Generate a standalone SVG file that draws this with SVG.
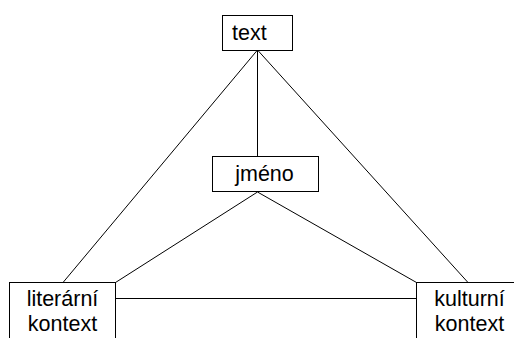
<svg xmlns="http://www.w3.org/2000/svg" width="514" height="338" viewBox="0 0 514 338">
<style>
.box{fill:#fff;stroke:#000;stroke-width:1}
.lbl{font-family:"Liberation Sans",Arial,sans-serif;font-size:21.5px;fill:#000}
.c{stroke:#000;stroke-width:1;fill:none}
</style>
<rect width="514" height="338" fill="#fff"/>
<g id="connectors">
<line class="c" x1="257.5" y1="50" x2="63" y2="282.5"/>
<line class="c" x1="257.5" y1="50" x2="468" y2="282.5"/>
<line class="c" x1="257.5" y1="50" x2="257.5" y2="156"/>
<line class="c" x1="257.5" y1="192" x2="115.5" y2="282.5"/>
<line class="c" x1="257.5" y1="192" x2="416.5" y2="282.5"/>
<line class="c" x1="115.5" y1="298.5" x2="416.5" y2="298.5"/>
</g>
<g id="text">
<rect class="box" x="222.5" y="15.5" width="70" height="35"/>
<text class="lbl" x="232" y="39.5">text</text>
</g>
<g id="jmeno">
<rect class="box" x="212.5" y="156.5" width="106" height="35"/>
<text class="lbl" x="264.5" y="181" text-anchor="middle">jméno</text>
</g>
<g id="literarni">
<rect class="box" x="9.5" y="282.5" width="106" height="70"/>
<text class="lbl" x="62.5" y="305.5" text-anchor="middle">literární</text>
<text class="lbl" x="62.5" y="330.5" text-anchor="middle">kontext</text>
</g>
<g id="kulturni">
<rect class="box" x="416.5" y="282.5" width="106" height="70"/>
<text class="lbl" x="469.5" y="305.5" text-anchor="middle">kulturní</text>
<text class="lbl" x="469.5" y="330.5" text-anchor="middle">kontext</text>
</g>
</svg>
